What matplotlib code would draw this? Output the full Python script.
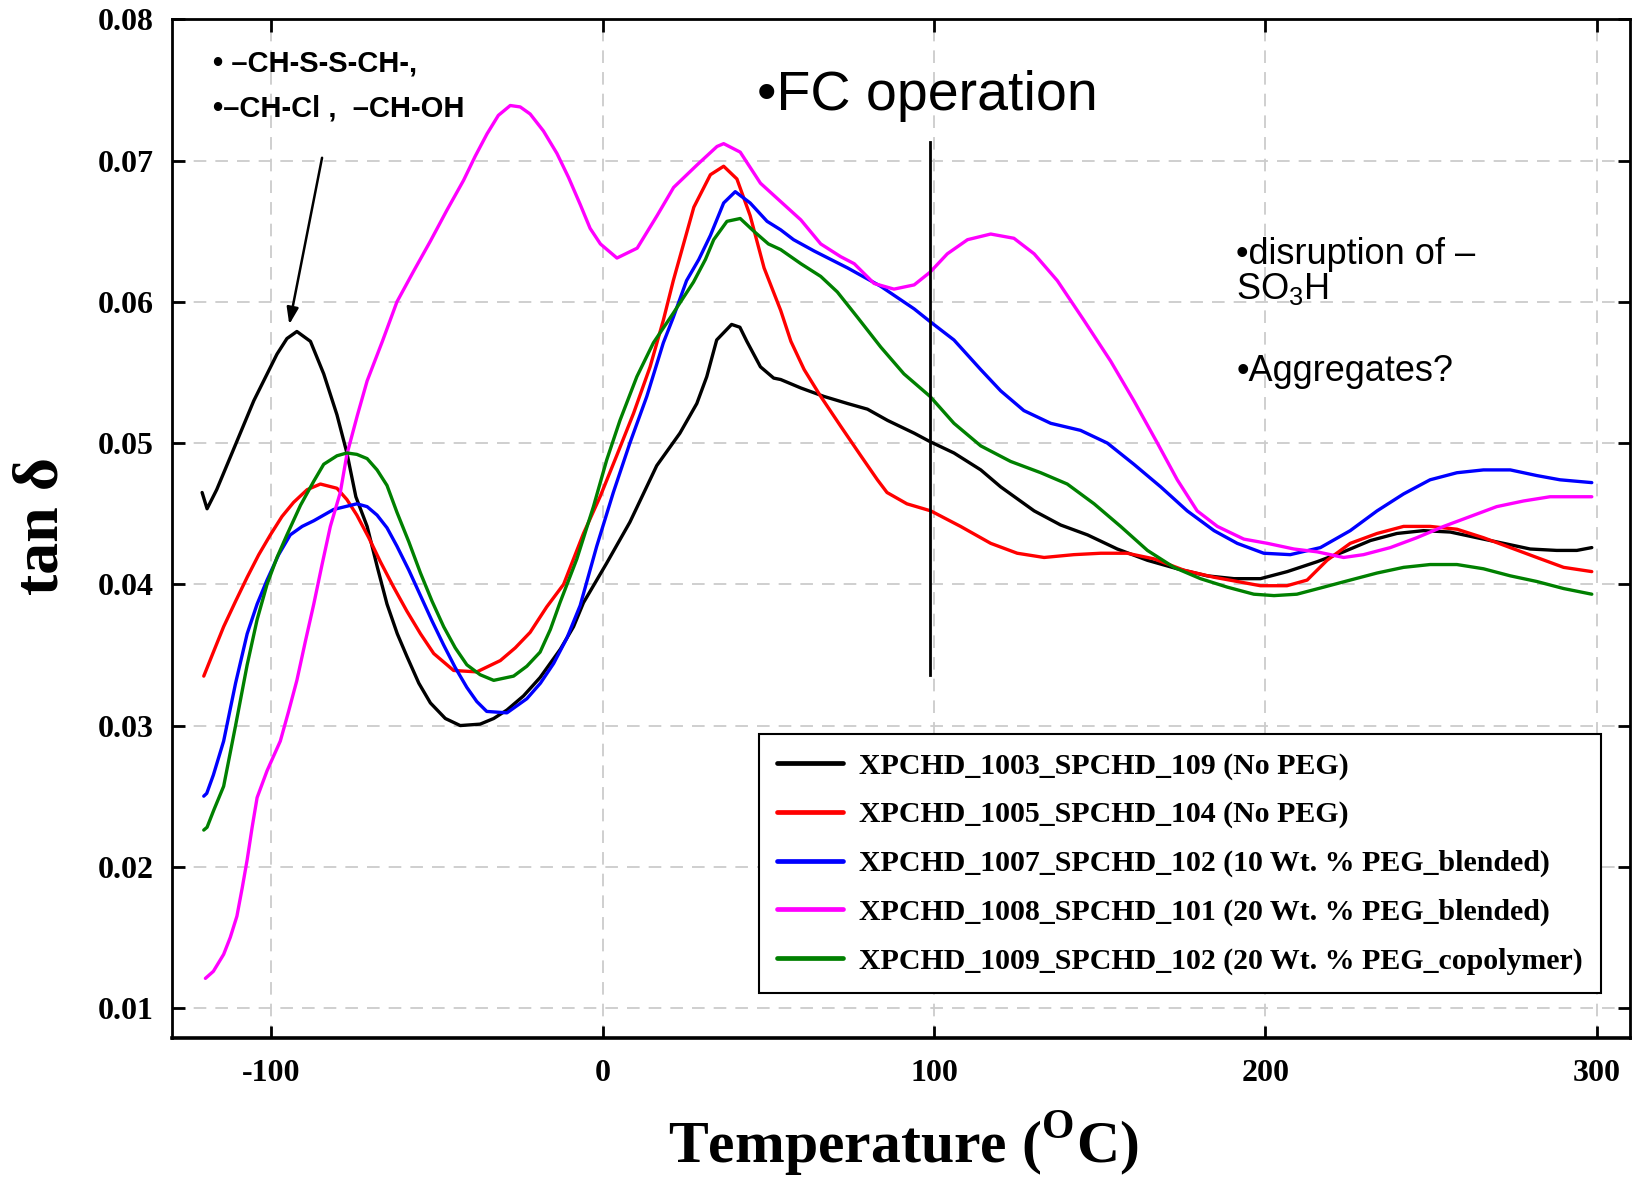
import matplotlib
matplotlib.use("Agg")
import matplotlib.pyplot as plt

plt.rcParams["mathtext.fontset"] = "custom"
plt.rcParams["mathtext.rm"] = "Liberation Sans"
plt.rcParams["mathtext.bf"] = "Liberation Serif:bold"

# tan delta curves (temperature in C)
t_1003 = [-120.9, -119.4, -116.5, -112.4, -105.3, -98.3, -95.3, -92.3, -88.2, -84.2, -80.2, -77.2, -74.5,
          -71.1, -68.0, -65.1, -62.0, -59.1, -55.5, -52.0, -47.5, -43.0, -37.0, -32.9, -28.9, -23.9, -18.9,
          -12.8, -8.8, -5.8, 1.2, 8.2, 16.3, 23.3, 28.4, 31.4, 34.4, 38.9, 41.4, 43.5, 47.6, 51.6, 53.7,
          59.8, 66.8, 73.9, 79.9, 86.0, 94.0, 98.8, 106.0, 114.1, 120.1, 130.2, 138.2, 146.3, 155.3, 164.4,
          173.4, 182.4, 190.5, 198.5, 206.6, 215.6, 223.6, 231.7, 239.7, 247.7, 255.8, 263.8, 271.9, 279.9,
          287.9, 294.0, 298.5]
d_1003 = [0.0465, 0.04535, 0.0467, 0.0490, 0.0530, 0.0563, 0.0574, 0.0579, 0.0572, 0.0549, 0.0520, 0.0493,
          0.0462, 0.0441, 0.0412, 0.0386, 0.0365, 0.0349, 0.0330, 0.0316, 0.0305, 0.0300, 0.0301, 0.0305,
          0.0311, 0.0321, 0.0334, 0.0354, 0.0370, 0.0387, 0.0415, 0.0444, 0.0484, 0.0507, 0.0528, 0.0547,
          0.0573, 0.0584, 0.0582, 0.0572, 0.0554, 0.0546, 0.0545, 0.0539, 0.0533, 0.0528, 0.0524, 0.0516,
          0.0507, 0.0501, 0.0493, 0.0481, 0.0469, 0.0452, 0.0442, 0.0435, 0.0425, 0.0417, 0.0411, 0.0406,
          0.0404, 0.0404, 0.0409, 0.0416, 0.0423, 0.0431, 0.0436, 0.0438, 0.0437, 0.0433, 0.0429, 0.0425,
          0.0424, 0.0424, 0.0426]

t_1005 = [-120.4, -117.5, -114.4, -110.8, -107.3, -103.8, -100.3, -96.8, -93.3, -89.2, -85.2, -80.2, -77.2,
          -74.2, -70.6, -67.1, -63.1, -59.1, -55.0, -51.0, -45.0, -38.0, -30.9, -26.4, -21.9, -16.9, -11.8,
          -5.8, -0.8, 4.2, 9.3, 14.3, 18.3, 21.3, 27.5, 32.5, 36.5, 40.5, 44.5, 48.7, 53.7, 56.8, 60.8, 65.8,
          71.8, 77.9, 82.9, 85.8, 91.8, 99.0, 108.0, 117.1, 125.1, 133.2, 142.2, 150.3, 158.3, 166.4, 175.4,
          184.5, 191.5, 198.5, 206.5, 212.6, 218.6, 225.6, 233.7, 241.7, 249.7, 257.8, 265.8, 273.9, 281.9,
          290.0, 298.5]
d_1005 = [0.0335, 0.0352, 0.0370, 0.0388, 0.0405, 0.0421, 0.0435, 0.0448, 0.0458, 0.0467, 0.0471, 0.0468,
          0.0460, 0.0449, 0.0433, 0.0416, 0.0398, 0.0381, 0.0365, 0.0351, 0.0339, 0.0338, 0.0346, 0.0355,
          0.0366, 0.0384, 0.0400, 0.0436, 0.0462, 0.0491, 0.0521, 0.0554, 0.0587, 0.0615, 0.0667, 0.0690,
          0.0696, 0.0687, 0.0661, 0.0624, 0.0594, 0.0572, 0.0552, 0.0533, 0.0512, 0.0491, 0.0474, 0.0465,
          0.0457, 0.0452, 0.0441, 0.0429, 0.0422, 0.0419, 0.0421, 0.0422, 0.0422, 0.0418, 0.0410, 0.0405,
          0.0402, 0.0399, 0.0399, 0.0403, 0.0417, 0.0429, 0.0436, 0.0441, 0.0441, 0.0439, 0.0433, 0.0426,
          0.0419, 0.0412, 0.0409]

t_1007 = [-120.4, -119.5, -117.5, -114.4, -110.8, -107.3, -104.3, -101.3, -97.8, -94.3, -90.7, -87.2, -81.2,
          -74.2, -71.1, -68.1, -65.1, -62.1, -58.5, -55.0, -51.5, -48.0, -44.5, -41.0, -38.0, -35.0, -28.9,
          -22.9, -18.8, -14.8, -10.8, -6.8, -1.8, 3.2, 8.2, 13.3, 18.3, 21.3, 25.3, 29.0, 32.5, 36.5, 40.0,
          44.5, 49.6, 53.7, 57.6, 63.8, 73.9, 83.9, 94.0, 98.8, 106.0, 114.1, 120.1, 127.1, 135.2, 144.2,
          152.3, 160.3, 168.4, 176.4, 184.5, 191.5, 199.5, 207.5, 216.6, 225.6, 233.7, 241.7, 249.7, 257.8,
          265.8, 273.9, 281.9, 288.9, 298.5]
d_1007 = [0.0250, 0.0252, 0.0265, 0.0289, 0.0330, 0.0365, 0.0386, 0.0403, 0.0421, 0.0435, 0.0441, 0.0445,
          0.0453, 0.0457, 0.0455, 0.0449, 0.0440, 0.0427, 0.0410, 0.0392, 0.0374, 0.0357, 0.0341, 0.0327,
          0.0317, 0.0310, 0.0309, 0.0319, 0.0330, 0.0344, 0.0362, 0.0385, 0.0427, 0.0465, 0.0500, 0.0533,
          0.0571, 0.0589, 0.0615, 0.0630, 0.0647, 0.0670, 0.0678, 0.0670, 0.0657, 0.0651, 0.0644, 0.0636,
          0.0624, 0.0611, 0.0595, 0.0586, 0.0573, 0.0552, 0.0537, 0.0523, 0.0514, 0.0509, 0.0500, 0.0485,
          0.0469, 0.0452, 0.0438, 0.0429, 0.0422, 0.0421, 0.0426, 0.0438, 0.0452, 0.0464, 0.0474, 0.0479,
          0.0481, 0.0481, 0.0477, 0.0474, 0.0472]

t_1008 = [-119.9, -117.5, -114.4, -112.4, -110.4, -108.8, -107.3, -105.8, -104.3, -101.3, -97.3, -94.8, -92.3,
          -89.7, -87.2, -84.7, -82.2, -79.2, -77.2, -74.0, -71.1, -66.5, -62.1, -57.0, -52.0, -47.0, -42.0,
          -38.5, -34.9, -31.5, -27.9, -24.9, -21.9, -17.9, -13.8, -10.3, -6.8, -3.8, -0.7, 4.3, 10.4, 16.4,
          21.4, 28.5, 34.5, 36.5, 41.5, 47.6, 53.7, 59.8, 65.8, 71.8, 75.9, 81.9, 87.9, 94.0, 98.8, 104.0,
          110.1, 117.1, 124.1, 130.2, 137.2, 145.2, 153.3, 160.3, 167.4, 173.4, 179.4, 185.5, 193.5, 200.6,
          208.6, 215.6, 223.6, 229.6, 237.7, 245.7, 253.8, 261.8, 269.8, 277.9, 285.9, 298.5]
d_1008 = [0.0121, 0.0126, 0.0138, 0.0150, 0.0165, 0.0185, 0.0205, 0.0228, 0.0249, 0.0268, 0.0289, 0.0310,
          0.0332, 0.0360, 0.0386, 0.0414, 0.0441, 0.0465, 0.0492, 0.0520, 0.0544, 0.0572, 0.0600, 0.0622,
          0.0643, 0.0665, 0.0686, 0.0703, 0.0719, 0.0732, 0.0739, 0.0738, 0.0733, 0.0721, 0.0705, 0.0688,
          0.0669, 0.0652, 0.0641, 0.0631, 0.0638, 0.0661, 0.0681, 0.0697, 0.0710, 0.0712, 0.0706, 0.0684,
          0.0671, 0.0658, 0.0641, 0.0632, 0.0627, 0.0613, 0.0609, 0.0612, 0.0621, 0.0634, 0.0644, 0.0648,
          0.0645, 0.0634, 0.0615, 0.0587, 0.0558, 0.0530, 0.0500, 0.0474, 0.0452, 0.0441, 0.0432, 0.0429,
          0.0425, 0.0423, 0.0419, 0.0421, 0.0426, 0.0433, 0.0441, 0.0448, 0.0455, 0.0459, 0.0462, 0.0462]

t_1009 = [-120.4, -119.4, -117.4, -114.4, -110.8, -107.3, -104.3, -101.3, -98.3, -95.3, -91.2, -87.2, -84.2,
          -80.2, -77.2, -74.2, -71.1, -68.1, -65.1, -62.1, -58.5, -55.0, -51.5, -48.0, -44.5, -41.0, -37.0,
          -32.9, -26.9, -22.9, -18.9, -15.8, -12.9, -7.8, -2.8, 1.2, 5.2, 10.3, 15.3, 21.3, 27.4, 31.0,
          33.5, 37.5, 41.5, 45.6, 50.0, 53.7, 59.8, 65.8, 70.8, 76.9, 83.9, 90.9, 98.8, 106.0, 114.1, 123.1,
          132.2, 140.2, 148.3, 156.3, 164.4, 172.4, 180.4, 188.5, 196.5, 202.6, 209.5, 217.6, 225.6, 233.7,
          241.7, 249.7, 257.8, 265.8, 273.9, 281.9, 290.0, 298.5]
d_1009 = [0.0226, 0.0228, 0.0240, 0.0257, 0.0300, 0.0343, 0.0375, 0.0400, 0.0419, 0.0435, 0.0456, 0.0473,
          0.0485, 0.0491, 0.0493, 0.0492, 0.0489, 0.0481, 0.0470, 0.0451, 0.0430, 0.0408, 0.0388, 0.0370,
          0.0355, 0.0343, 0.0336, 0.0332, 0.0335, 0.0342, 0.0352, 0.0368, 0.0387, 0.0418, 0.0455, 0.0488,
          0.0516, 0.0547, 0.0571, 0.0592, 0.0614, 0.0630, 0.0644, 0.0657, 0.0659, 0.0650, 0.0641, 0.0637,
          0.0627, 0.0618, 0.0607, 0.0589, 0.0568, 0.0549, 0.0533, 0.0514, 0.0498, 0.0487, 0.0479, 0.0471,
          0.0457, 0.0441, 0.0424, 0.0412, 0.0404, 0.0398, 0.0393, 0.0392, 0.0393, 0.0398, 0.0403, 0.0408,
          0.0412, 0.0414, 0.0414, 0.0411, 0.0406, 0.0402, 0.0397, 0.0393]

labels = ["XPCHD_1003_SPCHD_109 (No PEG)",
          "XPCHD_1005_SPCHD_104 (No PEG)",
          "XPCHD_1007_SPCHD_102 (10 Wt. % PEG_blended)",
          "XPCHD_1008_SPCHD_101 (20 Wt. % PEG_blended)",
          "XPCHD_1009_SPCHD_102 (20 Wt. % PEG_copolymer)"]
colors = ["#000000", "#ff0000", "#0000ff", "#ff00ff", "#008000"]

x_ticks = [-100, 0, 100, 200, 300]
x_ticklabels = ["-100", "0", "100", "200", "300"]
y_ticks = [0.01, 0.02, 0.03, 0.04, 0.05, 0.06, 0.07, 0.08]
y_ticklabels = ["0.01", "0.02", "0.03", "0.04", "0.05", "0.06", "0.07", "0.08"]

fig = plt.figure(figsize=(16.33, 11.8), dpi=100)
ax = fig.add_axes([0.1053, 0.1206, 0.8928, 0.8630])

series = [(t_1003, d_1003), (t_1005, d_1005), (t_1007, d_1007), (t_1008, d_1008), (t_1009, d_1009)]
for (t, d), c, lab in zip(series, colors, labels):
    ax.plot(t, d, color=c, lw=2.4, label=lab, solid_capstyle="round", solid_joinstyle="round", zorder=3)

ax.set_xlim(-130, 310)
ax.set_ylim(0.0079, 0.08)
ax.set_xticks(x_ticks)
ax.set_xticklabels(x_ticklabels)
ax.set_yticks(y_ticks)
ax.set_yticklabels(y_ticklabels)
ax.grid(True, color="#cccccc", lw=1.3, ls=(0, (7, 5)), zorder=0)
ax.tick_params(direction="in", length=9, width=2, top=True, right=True,
               labelsize=23, pad=13)
ax.tick_params(axis="x", pad=15)
for lbl in ax.get_xticklabels() + ax.get_yticklabels():
    lbl.set_fontfamily("Liberation Serif")
    lbl.set_fontweight("bold")
for s in ax.spines.values():
    s.set_linewidth(2)
ax.spines["bottom"].set_linewidth(2.6)

# FC operation marker
ax.plot([98.8, 98.8], [0.0336, 0.0713], color="black", lw=2, zorder=4)

ax.annotate("", xy=(-94.6, 0.0584), xytext=(-84.7, 0.0702),
            arrowprops=dict(arrowstyle="-|>,head_width=0.35,head_length=1.0",
                            color="black", lw=1.8, shrinkA=0, shrinkB=0))

ax.text(-117.7, 0.0769, "\u2022 \u2013CH-S-S-CH-,", fontsize=21, fontweight="bold",
        family="Liberation Sans", va="center", ha="left")
ax.text(-117.7, 0.0737, "\u2022\u2013CH-Cl ,  \u2013CH-OH", fontsize=21, fontweight="bold",
        family="Liberation Sans", va="center", ha="left")
ax.text(46.7, 0.0736, "\u2022FC operation", fontsize=40, family="Liberation Sans",
        va="baseline", ha="left")
ax.text(191.2, 0.0627, "\u2022disruption of \u2013", fontsize=26, family="Liberation Sans",
        va="baseline", ha="left")
ax.text(191.2, 0.0602, "SO$_{\\mathrm{3}}$H", fontsize=26, family="Liberation Sans",
        va="baseline", ha="left")
ax.text(191.2, 0.0544, "\u2022Aggregates?", fontsize=26, family="Liberation Sans",
        va="baseline", ha="left")

leg = ax.legend(loc="lower right", bbox_to_anchor=(0.980, 0.044), borderaxespad=0,
                prop={"family": "Liberation Serif", "weight": "bold", "size": 21.5},
                fancybox=False, framealpha=1, edgecolor="black",
                handlelength=2.2, handletextpad=0.55, borderpad=0.6, labelspacing=0.72)
leg.get_frame().set_linewidth(1.5)
for h in leg.get_lines():
    h.set_linewidth(3.4)

fig.text(0.0263, 0.554, "tan \u03b4", rotation=90, fontsize=46, fontweight="bold",
         family="Liberation Serif", ha="center", va="center")
fig.text(0.553, 0.002, "Temperature ($^{\\mathbf{O}}$C)", fontsize=43, fontweight="bold",
         family="Liberation Serif", ha="center", va="bottom")

fig.savefig("out.png", dpi=100)
